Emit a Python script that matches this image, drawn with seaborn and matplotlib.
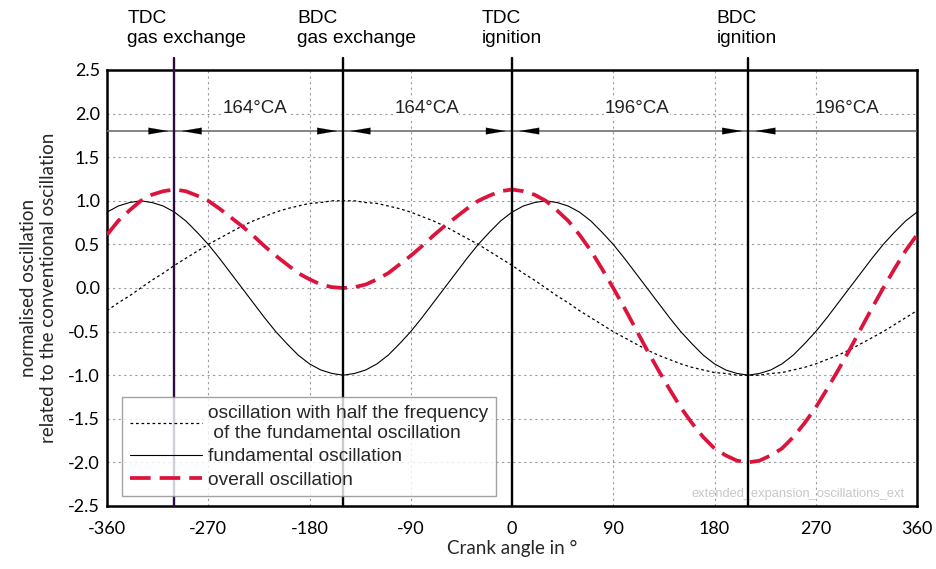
import numpy as np
import pandas as pd
import matplotlib
matplotlib.use("Agg")
import matplotlib.pyplot as plt
import matplotlib.transforms as mtransforms
import seaborn as sns

# Crank angle grid (degrees) and the three oscillation traces
crank_angle = list(range(-360, 361, 10))

half_freq = [-0.26, -0.17, -0.09, 0.00, 0.09, 0.17, 0.26, 0.34, 0.42, 0.50,
             0.57, 0.64, 0.71, 0.77, 0.82, 0.87, 0.91, 0.94, 0.97, 0.98,
             1.00, 1.00, 1.00, 0.98, 0.97, 0.94, 0.91, 0.87, 0.82, 0.77,
             0.71, 0.64, 0.57, 0.50, 0.42, 0.34, 0.26, 0.17, 0.09, 0.00,
             -0.09, -0.17, -0.26, -0.34, -0.42, -0.50, -0.57, -0.64, -0.71, -0.77,
             -0.82, -0.87, -0.91, -0.94, -0.97, -0.98, -1.00, -1.00, -1.00, -0.98,
             -0.97, -0.94, -0.91, -0.87, -0.82, -0.77, -0.71, -0.64, -0.57, -0.50,
             -0.42, -0.34, -0.26]

fundamental = [0.87, 0.94, 0.98, 1.00, 0.98, 0.94, 0.87, 0.77, 0.64, 0.50,
               0.34, 0.17, 0.00, -0.17, -0.34, -0.50, -0.64, -0.77, -0.87, -0.94,
               -0.98, -1.00, -0.98, -0.94, -0.87, -0.77, -0.64, -0.50, -0.34, -0.17,
               0.00, 0.17, 0.34, 0.50, 0.64, 0.77, 0.87, 0.94, 0.98, 1.00,
               0.98, 0.94, 0.87, 0.77, 0.64, 0.50, 0.34, 0.17, 0.00, -0.17,
               -0.34, -0.50, -0.64, -0.77, -0.87, -0.94, -0.98, -1.00, -0.98, -0.94,
               -0.87, -0.77, -0.64, -0.50, -0.34, -0.17, 0.00, 0.17, 0.34, 0.50,
               0.64, 0.77, 0.87]

overall = [0.61, 0.77, 0.89, 1.00, 1.07, 1.11, 1.13, 1.11, 1.06, 1.00,
           0.91, 0.81, 0.71, 0.60, 0.48, 0.37, 0.27, 0.17, 0.10, 0.04,
           0.01, 0.00, 0.01, 0.04, 0.10, 0.17, 0.27, 0.37, 0.48, 0.60,
           0.71, 0.81, 0.91, 1.00, 1.06, 1.11, 1.13, 1.11, 1.07, 1.00,
           0.89, 0.77, 0.61, 0.43, 0.22, 0.00, -0.23, -0.47, -0.71, -0.94,
           -1.16, -1.37, -1.55, -1.71, -1.84, -1.92, -1.98, -2.00, -1.98, -1.92,
           -1.84, -1.71, -1.55, -1.37, -1.16, -0.94, -0.71, -0.47, -0.23, 0.00,
           0.22, 0.43, 0.61]

# Dead-centre positions and their captions
dead_centres = [-300, -150, 0, 210]
dead_centre_colors = ["#2a0b3d", "black", "black", "black"]
dead_centre_labels = ["TDC\ngas exchange", "BDC\ngas exchange", "TDC\nignition", "BDC\nignition"]
dead_centre_label_x = [-342, -191, -27, 182]

# Interval annotations
interval_labels = ["164°CA", "164°CA", "196°CA", "196°CA"]
interval_label_x = [-228, -76, 111, 298]

x_ticks = [-360, -270, -180, -90, 0, 90, 180, 270, 360]
y_ticks = [-2.5, -2.0, -1.5, -1.0, -0.5, 0.0, 0.5, 1.0, 1.5, 2.0, 2.5]

sns.set_theme(style="white")
plt.rcParams["font.family"] = ["Liberation Sans", "DejaVu Sans"]

df = pd.DataFrame({"angle": crank_angle, "half": half_freq,
                   "fund": fundamental, "overall": overall})

fig = plt.figure(figsize=(9.36, 5.69), dpi=100)
ax = fig.add_axes([107 / 936, 1 - 506 / 569, 810 / 936, 436 / 569])

sns.lineplot(data=df, x="angle", y="half", ax=ax, color="black", lw=0.9,
             linestyle=(0, (2.2, 2.2)), label="oscillation with half the frequency\n of the fundamental oscillation")
sns.lineplot(data=df, x="angle", y="fund", ax=ax, color="black", lw=0.8,
             label="fundamental oscillation")
sns.lineplot(data=df, x="angle", y="overall", ax=ax, color="#dc143c", lw=2.7,
             linestyle=(0, (5.5, 2.4)), label="overall oscillation", zorder=4)

ax.set_xlim(-360, 360)
ax.set_ylim(-2.5, 2.5)
ax.set_xticks(x_ticks)
ax.set_yticks(y_ticks)
ax.set_xticklabels([str(t) for t in x_ticks], fontfamily="Lato", fontsize=13)
ax.set_yticklabels([f"{t:.1f}" for t in y_ticks], fontfamily="Lato", fontsize=13)
ax.tick_params(axis="x", direction="in", length=6, width=1, pad=11, colors="black")
ax.tick_params(axis="y", direction="in", length=6, width=1, pad=5, colors="black")

ax.grid(True, color="#9a9a9a", linestyle=(0, (2, 3)), lw=0.8)
for s in ax.spines.values():
    s.set_linewidth(1.8)
    s.set_color("black")

ax.set_xlabel("Crank angle in °", fontfamily="Lato", fontsize=13.5, labelpad=2)
ax.set_ylabel("normalised oscillation\nrelated to the conventional oscillation",
              fontfamily="Lato", fontsize=13.5, labelpad=8)

# Dead-centre markers, extending slightly above the plot frame
for xc, col in zip(dead_centres, dead_centre_colors):
    ax.plot([xc, xc], [-2.5, 2.64], color=col, lw=1.7, clip_on=False, zorder=5)

blend = mtransforms.blended_transform_factory(ax.transData, ax.transAxes)
for xl, txt in zip(dead_centre_label_x, dead_centre_labels):
    ax.text(xl, 1.137, txt, transform=blend, ha="left", va="top",
            fontsize=13.8, linespacing=1.22, color="black")

# Interval arrow line with heads pointing at each dead centre
ax.axhline(1.8, color="#6e6e6e", lw=1.2, zorder=3)
gap_l, gap_r, head = 5.5, 6.5, 17
for xc in dead_centres:
    ax.annotate("", xy=(xc - gap_l, 1.8), xytext=(xc - gap_l - head, 1.8),
                arrowprops=dict(arrowstyle="-|>,head_length=1.4,head_width=0.24",
                                color="black", lw=0.1, shrinkA=0, shrinkB=0,
                                mutation_scale=10), zorder=6)
    ax.annotate("", xy=(xc + gap_r, 1.8), xytext=(xc + gap_r + head, 1.8),
                arrowprops=dict(arrowstyle="-|>,head_length=1.4,head_width=0.24",
                                color="black", lw=0.1, shrinkA=0, shrinkB=0,
                                mutation_scale=10), zorder=6)

for xl, txt in zip(interval_label_x, interval_labels):
    ax.text(xl, 2.06, txt, ha="center", va="center", fontsize=13.5, color="#222222",
            bbox=dict(facecolor="white", edgecolor="none", pad=0.3))

ax.text(0.985, 0.028, "extended_expansion_oscillations_ext", transform=ax.transAxes,
        ha="right", va="center", fontsize=9.3, color="#c8c8c8")

leg = ax.legend(loc="upper left", bbox_to_anchor=(0.019, 0.25), borderaxespad=0,
                fontsize=13.8, frameon=True, fancybox=False, handlelength=3.75,
                handletextpad=0.3, labelspacing=0.3, borderpad=0.4)
leg.get_frame().set_edgecolor("#8c8c8c")
leg.get_frame().set_linewidth(1.0)
leg.set_zorder(7)
for t in leg.get_texts():
    t.set_linespacing(1.28)

fig.savefig("out.png", dpi=100)
